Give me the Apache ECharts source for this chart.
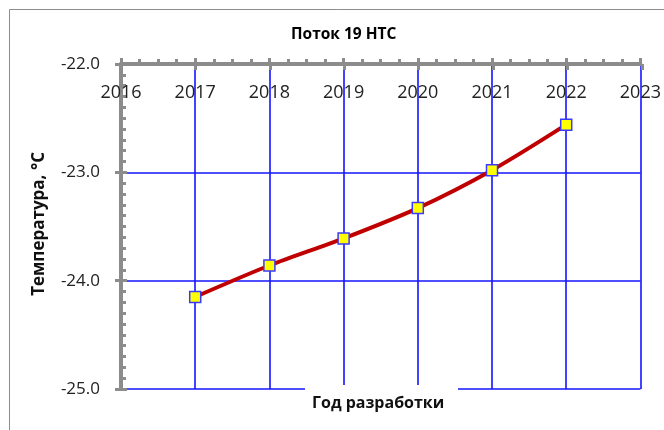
<!DOCTYPE html>
<html>
<head>
<meta charset="utf-8">
<script src="https://cdn.jsdelivr.net/npm/echarts@6/dist/echarts.min.js"></script>
<style>
html,body{margin:0;padding:0;background:#fff;}
#chart{width:664px;height:430px;}
</style>
</head>
<body>
<div id="chart"></div>
<script>
const titleText = 'Поток 19 НТС';
const xName = 'Год разработки';
const yName = 'Температура, °C';
const years = [2017, 2018, 2019, 2020, 2021, 2022];
const temps = [-24.15, -23.86, -23.61, -23.33, -22.98, -22.56];
const xTicks = [2016, 2017, 2018, 2019, 2020, 2021, 2022, 2023];
const yTicks = [-25.0, -24.0, -23.0, -22.0];

const FONT = '"Open Sans", "Noto Sans", sans-serif';
const AX = '#8c8c8c';
const GRIDC = '#1414ff';
const gridRect = { left: 121, top: 64, width: 521, height: 325, containLabel: false };

const chart = echarts.init(document.getElementById('chart'), null, { renderer: 'canvas' });
const xMin = xTicks[0], xMax = xTicks[xTicks.length - 1];
const yMin = yTicks[0], yMax = yTicks[yTicks.length - 1];

chart.setOption({
  animation: false,
  backgroundColor: '#fff',
  title: {
    text: titleText, left: 286, top: 22,
    textStyle: { fontFamily: FONT, fontSize: 15.5, fontWeight: 'bold', color: '#000' }
  },
  grid: [Object.assign({}, gridRect), Object.assign({}, gridRect)],
  xAxis: [
    {
      type: 'value', gridIndex: 0, position: 'top', min: xMin, max: xMax, interval: 1,
      axisLine: { show: true, onZero: false, lineStyle: { color: AX, width: 4 } },
      axisTick: { show: true, inside: false, length: 6, lineStyle: { color: AX, width: 3 } },
      minorTick: { show: true, splitNumber: 4, length: 5, lineStyle: { color: AX, width: 3 } },
      axisLabel: { inside: true, margin: 20, fontFamily: FONT, fontSize: 18, color: '#222',
        formatter: v => String(v) },
      splitLine: { show: true, lineStyle: { color: GRIDC, width: 1.6 } }
    },
    {
      type: 'value', gridIndex: 1, position: 'top', min: xMin, max: xMax, interval: 1,
      axisLine: { show: false, onZero: false },
      axisTick: { show: true, inside: true, length: 6, lineStyle: { color: AX, width: 3 } },
      axisLabel: { show: false },
      splitLine: { show: false }
    }
  ],
  yAxis: [
    {
      type: 'value', gridIndex: 0, position: 'left', min: yMin, max: yMax, interval: 1,
      axisLine: { show: true, onZero: false, lineStyle: { color: AX, width: 4 } },
      axisTick: { show: true, inside: false, length: 6, lineStyle: { color: AX, width: 3 } },
      axisLabel: { margin: 21, fontFamily: FONT, fontSize: 17, color: '#222',
        formatter: v => v.toFixed(1) },
      splitLine: { show: true, lineStyle: { color: GRIDC, width: 1.6 } }
    },
    {
      type: 'value', gridIndex: 1, position: 'left', min: yMin, max: yMax, interval: 1,
      axisLine: { show: false, onZero: false },
      axisTick: { show: true, inside: true, length: 6, lineStyle: { color: AX, width: 3 } },
      minorTick: { show: true, splitNumber: 10, length: 5, lineStyle: { color: AX, width: 3 } },
      axisLabel: { show: false },
      splitLine: { show: false }
    }
  ],
  series: [{
    type: 'line', xAxisIndex: 0, yAxisIndex: 0,
    data: years.map((y, i) => [y, temps[i]]),
    smooth: 0.3,
    lineStyle: { color: '#c00000', width: 4 },
    symbol: 'rect', symbolSize: 11,
    itemStyle: { color: '#ffff00', borderColor: '#3a3aff', borderWidth: 1.5 },
    z: 5
  }],
  graphic: [
    { type: 'rect', left: 7, top: 7, shape: { width: 700, height: 500 }, silent: true,
      style: { fill: null, stroke: '#8c8c8c', lineWidth: 1 }, z: -10 },
    { type: 'rect', left: 305, top: 385, shape: { width: 153, height: 40 },
      style: { fill: '#fff' }, z: 50 },
    { type: 'text', left: 312, top: 395, z: 51,
      style: { text: xName, fontFamily: FONT, fontSize: 16, fontWeight: 'bold', fill: '#111' } },
    { type: 'text', left: 31, top: 152, rotation: Math.PI / 2, z: 51,
      style: { text: yName, fontFamily: FONT, fontSize: 17, fontWeight: 'bold', fill: '#111' } }
  ]
});
</script>
</body>
</html>
